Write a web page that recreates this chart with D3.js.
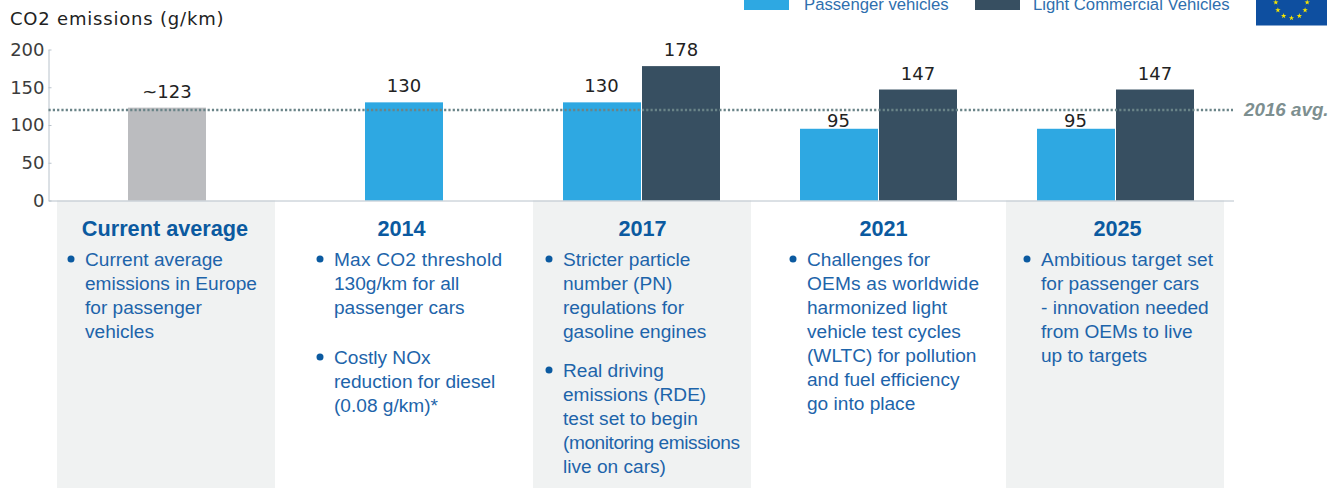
<!DOCTYPE html>
<html><head><meta charset="utf-8">
<script src="https://cdnjs.cloudflare.com/ajax/libs/d3/7.8.5/d3.min.js"></script>
<style>html,body{margin:0;padding:0;background:#fff;overflow:hidden}svg{display:block}</style>
</head><body><svg id="c" width="1337" height="488"></svg>
<script>
const categories=["Current average","2014","2017","2021","2025"];
const currentAvg=[123,null,null,null,null];
const passenger=[null,130,130,95,95];
const lcv=[null,null,178,147,147];
const currentLabels=["~123",null,null,null,null];
const yTicks=[0,50,100,150,200];
const avg2016=120;
const shaded=["Current average","2017","2025"];
const bullets=[
 [["Current average","emissions in Europe","for passenger","vehicles"]],
 [["Max CO2 threshold","130g/km for all","passenger cars"],["Costly NOx","reduction for diesel","(0.08 g/km)*"]],
 [["Stricter particle","number (PN)","regulations for","gasoline engines"],["Real driving","emissions (RDE)","test set to begin","(monitoring emissions","live on cars)"]],
 [["Challenges for","OEMs as worldwide","harmonized light","vehicle test cycles","(WLTC) for pollution","and fuel efficiency","go into place"]],
 [["Ambitious target set","for passenger cars","- innovation needed","from OEMs to live","up to targets"]]
];
const legend=[["Passenger vehicles","#2ea8e2"],["Light Commercial Vehicles","#374f61"]];

// layout only
const textX=[85,334,563,807,1041];
const headX=[165,401.5,642.5,883.5,1117.5];
const paraGap=[0,26,15,0,0];
const panelX=[57,533,1006];
const fittedLines=new Map([["(monitoring emissions",177],["Max CO2 threshold",168],["Ambitious target set",172],["OEMs as worldwide",172]]);

const svg=d3.select("#c");
const x=d3.scaleBand().domain(categories).range([48.5,1233.5]);
const y=d3.scaleLinear().domain([0,200]).range([200.5,49.5]);
const barW=78, gap=1;
const chartFont="'DejaVu Sans',sans-serif";
const bodyFont="'Liberation Sans',Arial,sans-serif";
const blue="#0b5aa0";

// panels
svg.append("g").selectAll("rect").data(shaded).join("rect")
 .attr("x",(d,i)=>panelX[i]).attr("y",y(0)).attr("width",218).attr("height",488-y(0)).attr("fill","#f0f2f2");

// bars
const bars=[];
categories.forEach((c,i)=>{
  const cx=x(c)+x.bandwidth()/2;
  if(currentAvg[i]!=null) bars.push({x:cx-barW/2,v:currentAvg[i],f:"#bbbcbf",cx,l:currentLabels[i]});
  if(passenger[i]!=null&&lcv[i]!=null){
    bars.push({x:cx-barW-gap/2+0.5,v:passenger[i],f:legend[0][1],cx:cx-barW/2-0.5,l:String(passenger[i])});
    bars.push({x:cx+gap/2+0.5,v:lcv[i],f:legend[1][1],cx:cx+barW/2+1,l:String(lcv[i])});
  } else if(passenger[i]!=null){
    bars.push({x:cx-barW/2,v:passenger[i],f:legend[0][1],cx,l:String(passenger[i])});
  }
});
svg.append("g").selectAll("rect").data(bars).join("rect")
 .attr("x",d=>d.x).attr("y",d=>y(d.v)).attr("width",barW).attr("height",d=>y(0)-y(d.v)).attr("fill",d=>d.f);
svg.append("g").selectAll("text").data(bars).join("text")
 .attr("x",d=>d.cx).attr("y",d=>y(d.v)-(d.v<100?1.5:10)).attr("text-anchor","middle")
 .attr("font-family",chartFont).attr("font-size",18).attr("fill","#222").text(d=>d.l);

// axes
const ay=svg.append("g").attr("transform","translate(48.5,0)")
 .call(d3.axisLeft(y).tickValues(yTicks).tickSizeInner(-3).tickSizeOuter(0).tickPadding(4));
ay.selectAll("text").attr("font-family",chartFont).attr("font-size",18).attr("fill","#3c3c3c");
ay.selectAll("line,path").attr("stroke","#b8c2cb");
const ax=svg.append("g").attr("transform",`translate(0,${y(0)})`).call(d3.axisBottom(x).tickValues([]).tickSizeOuter(0));
ax.selectAll("path").attr("stroke","#b8c2cb");
svg.append("text").attr("x",10).attr("y",25).attr("font-family",chartFont).attr("font-size",18).attr("letter-spacing",0.8).attr("fill","#222").text("CO2 emissions (g/km)");

// reference line
svg.append("line").attr("x1",48.5).attr("x2",1233).attr("y1",Math.round(y(avg2016))).attr("y2",Math.round(y(avg2016)))
 .attr("stroke","#6a8488").attr("stroke-width",2.4).attr("stroke-dasharray","2.2 2.1");
svg.append("text").attr("x",1244).attr("y",y(avg2016)+6).attr("font-family",bodyFont)
 .attr("font-weight","bold").attr("font-style","italic").attr("font-size",18.8).attr("fill","#7d8f90").text("2016 avg.");

// headings and bullets
const lh=24;
const ct=svg.append("g");
categories.forEach((c,i)=>{
  ct.append("text").attr("x",headX[i]).attr("y",236).attr("text-anchor","middle")
    .attr("font-family",bodyFont).attr("font-weight","bold").attr("font-size",21.7).attr("fill",blue).text(c);
  let yy=266;
  bullets[i].forEach(par=>{
    ct.append("circle").attr("cx",textX[i]-14).attr("cy",yy-7).attr("r",3.5).attr("fill",blue);
    par.forEach(line=>{
      const t=ct.append("text").attr("x",textX[i]).attr("y",yy).attr("font-family",bodyFont).attr("font-size",19.1).attr("fill","#1d64aa").text(line);
      if(fittedLines.has(line)) t.attr("textLength",fittedLines.get(line)).attr("lengthAdjust","spacing");
      yy+=lh;
    });
    yy+=paraGap[i];
  });
});

// legend
const lx=[744,975], ltx=[804,1033];
legend.forEach((l,i)=>{
  svg.append("rect").attr("x",lx[i]).attr("y",-5).attr("width",45).attr("height",15).attr("fill",l[1]);
  svg.append("text").attr("x",ltx[i]).attr("y",10).attr("font-family",bodyFont).attr("font-size",16.7).attr("fill","#2f6fae").text(l[0]);
});

// EU flag
svg.append("rect").attr("x",1256).attr("y",-22).attr("width",71).attr("height",47.5).attr("fill","#0e4fa0");
const starAngles=d3.range(12).map(k=>k*30);
svg.append("g").selectAll("path").data(starAngles).join("path")
 .attr("transform",d=>`translate(${1291.5+15.7*Math.sin(d*Math.PI/180)},${2.3+15.7*Math.cos(d*Math.PI/180)})`)
 .attr("d",d3.symbol(d3.symbolStar,9)).attr("fill","#f7e600");
</script></body></html>
